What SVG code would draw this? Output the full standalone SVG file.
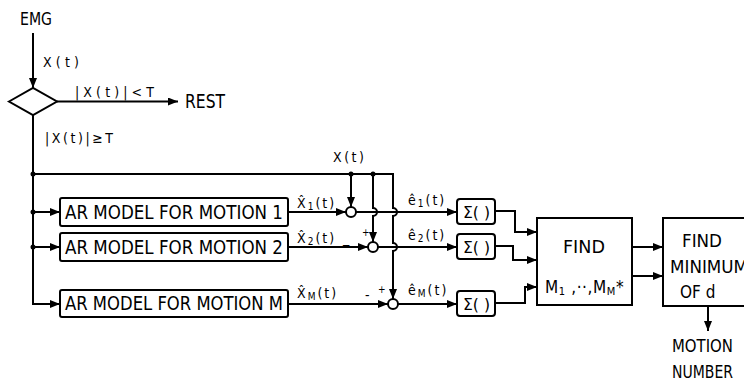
<svg xmlns="http://www.w3.org/2000/svg" width="744" height="383" viewBox="0 0 744 383">
<defs>
<marker id="ah" viewBox="0 0 10 8" refX="10" refY="4" markerWidth="10" markerHeight="8" markerUnits="userSpaceOnUse" orient="auto">
<path d="M0,0 L10,4 L0,8 Z" fill="#000"/>
</marker>
<style>
.t{font-family:"DejaVu Sans Condensed","Liberation Sans Narrow","Liberation Sans",sans-serif;fill:#000}
.lbl{font-size:14px}
.box{fill:#fff;stroke:#000;stroke-width:2}
.ln{fill:none;stroke:#000;stroke-width:2}
.arr{fill:none;stroke:#000;stroke-width:2;marker-end:url(#ah)}
.dot{fill:#000}
</style>
</defs>
<rect width="744" height="383" fill="#fff"/>

<g id="emg"><text class="t" x="20" y="25" font-size="17" textLength="32" lengthAdjust="spacingAndGlyphs">EMG</text></g>
<g id="decision"><polygon class="box" points="9,101.5 33,88 57,101.5 33,115"/></g>
<g id="rest"><text class="t" x="185" y="108" font-size="19" textLength="40" lengthAdjust="spacingAndGlyphs">REST</text></g>

<g id="ar1"><rect class="box" x="60" y="198" width="228" height="28" rx="2"/><text class="t" x="65" y="219" font-size="19" textLength="218" lengthAdjust="spacingAndGlyphs">AR MODEL FOR MOTION 1</text></g>
<g id="ar2"><rect class="box" x="60" y="233" width="228" height="28" rx="2"/><text class="t" x="65" y="254" font-size="19" textLength="218" lengthAdjust="spacingAndGlyphs">AR MODEL FOR MOTION 2</text></g>
<g id="arM"><rect class="box" x="60" y="290" width="228" height="27" rx="2"/><text class="t" x="65" y="310" font-size="19" textLength="218" lengthAdjust="spacingAndGlyphs">AR MODEL FOR MOTION M</text></g>

<g id="sum1"><circle class="box" cx="351" cy="212" r="5"/></g>
<g id="sum2"><circle class="box" cx="373" cy="247" r="5"/></g>
<g id="sumM"><circle class="box" cx="393" cy="304" r="5"/></g>

<g id="sig1"><rect class="box" x="457" y="199" width="38" height="25" rx="3"/><text class="t" x="463" y="218" font-size="15" textLength="27" lengthAdjust="spacingAndGlyphs">Σ( )</text></g>
<g id="sig2"><rect class="box" x="457" y="234" width="38" height="25" rx="3"/><text class="t" x="463" y="253" font-size="15" textLength="27" lengthAdjust="spacingAndGlyphs">Σ( )</text></g>
<g id="sigM"><rect class="box" x="457" y="291" width="38" height="25" rx="3"/><text class="t" x="463" y="310" font-size="15" textLength="27" lengthAdjust="spacingAndGlyphs">Σ( )</text></g>

<g id="find"><rect class="box" x="537" y="218" width="95" height="87"/>
<text class="t" x="563" y="253" font-size="17" textLength="42" lengthAdjust="spacingAndGlyphs">FIND</text>
<text class="t" x="545" y="293" font-size="17" letter-spacing="0.6">M<tspan font-size="11" dy="2">1</tspan><tspan dy="-2"> ,··,M</tspan><tspan font-size="11" dy="2">M</tspan><tspan dy="-2">*</tspan></text></g>

<g id="findmin"><rect class="box" x="663" y="218" width="95" height="88"/>
<text class="t" x="682" y="247" font-size="17" textLength="40" lengthAdjust="spacingAndGlyphs">FIND</text>
<text class="t" x="670" y="273" font-size="17" textLength="78" lengthAdjust="spacingAndGlyphs">MINIMUM</text>
<text class="t" x="680" y="298" font-size="17">OF  d</text></g>

<g id="out"><text class="t" x="672" y="352" font-size="17" textLength="61" lengthAdjust="spacingAndGlyphs">MOTION</text>
<text class="t" x="672" y="378" font-size="17" textLength="61" lengthAdjust="spacingAndGlyphs">NUMBER</text></g>

<g id="connectors">
<path class="arr" d="M33,33 L33,88"/>
<path class="arr" d="M57,101.5 L178,101.5"/>
<path class="arr" d="M33,115 L33,304 L60,304"/>
<path class="arr" d="M33,212 L60,212"/>
<path class="arr" d="M33,247 L60,247"/>
<path class="arr" d="M33,174 L393,174 L393,208 A4,4 0 0 1 393,216 L393,243 A4,4 0 0 1 393,251 L393,299"/>
<path class="arr" d="M351,174 L351,207"/>
<path class="arr" d="M373,174 L373,208 A4,4 0 0 1 373,216 L373,242"/>
<path class="arr" d="M288,212 L346,212"/>
<path class="arr" d="M356,212 L457,212"/>
<path class="arr" d="M288,247 L368,247"/>
<path class="arr" d="M378,247 L457,247"/>
<path class="arr" d="M288,304 L388,304"/>
<path class="arr" d="M398,304 L457,304"/>
<path class="arr" d="M495,211 L515,211 L515,232 L537,232"/>
<path class="arr" d="M495,246 L513,246 L513,260 L537,260"/>
<path class="arr" d="M495,303 L525,303 L525,287 L537,287"/>
<path class="arr" d="M632,247 L663,247"/>
<path class="arr" d="M632,276 L663,276"/>
<path class="arr" d="M708,306 L708,331"/>
<circle class="dot" cx="33" cy="174" r="2.5"/>
<circle class="dot" cx="33" cy="212" r="2.5"/>
<circle class="dot" cx="33" cy="247" r="2.5"/>
<circle class="dot" cx="351" cy="174" r="2.5"/>
<circle class="dot" cx="373" cy="174" r="2.5"/>
</g>

<g id="labels">
<text class="t lbl" x="43" y="67" textLength="36" lengthAdjust="spacing">X(t)</text>
<text class="t lbl" x="75" y="97" textLength="79" lengthAdjust="spacing">|X(t)|&lt;T</text>
<text class="t lbl" x="45" y="143" textLength="68" lengthAdjust="spacing">|X(t)|≥T</text>
<text class="t lbl" x="333" y="162" textLength="31" lengthAdjust="spacing">X(t)</text>
<text class="t lbl" x="297" y="208" letter-spacing="2">X&#x302;<tspan font-size="10" dy="2">1</tspan><tspan dy="-2">(t)</tspan></text>
<text class="t lbl" x="297" y="243" letter-spacing="2">X&#x302;<tspan font-size="10" dy="2">2</tspan><tspan dy="-2">(t)</tspan></text>
<text class="t lbl" x="343" y="243">_</text>
<text class="t" x="362" y="236" font-size="10">+</text>
<text class="t lbl" x="297" y="298" letter-spacing="2">X&#x302;<tspan font-size="10" dy="2">M</tspan><tspan dy="-2">(t)</tspan></text>
<text class="t lbl" x="365" y="300">-</text>
<text class="t" x="378" y="293" font-size="10">+</text>
<text class="t lbl" x="408" y="205" letter-spacing="2">ê<tspan font-size="10" dy="2">1</tspan><tspan dy="-2">(t)</tspan></text>
<text class="t lbl" x="408" y="240" letter-spacing="2">ê<tspan font-size="10" dy="2">2</tspan><tspan dy="-2">(t)</tspan></text>
<text class="t lbl" x="408" y="295" letter-spacing="2">ê<tspan font-size="10" dy="2">M</tspan><tspan dy="-2">(t)</tspan></text>
</g>
</svg>
